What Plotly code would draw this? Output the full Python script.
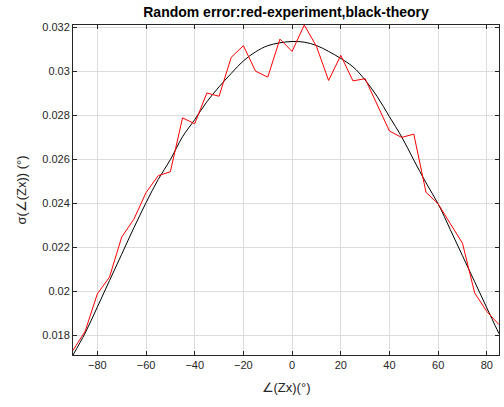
import plotly.graph_objects as go

# angles (deg) sampled every 5 degrees
angles = list(range(-90, 90, 5))

# experimental random error (red)
experiment = [0.01733, 0.01820, 0.01990, 0.02066, 0.02248, 0.02329, 0.02450, 0.02527,
              0.02545, 0.02790, 0.02763, 0.02903, 0.02888, 0.03065, 0.03118, 0.03002,
              0.02975, 0.03148, 0.03092, 0.03212, 0.03115, 0.02960, 0.03074, 0.02958,
              0.02968, 0.02848, 0.02730, 0.02701, 0.02716, 0.02452, 0.02399, 0.02309,
              0.02220, 0.01994, 0.01910, 0.01850]

# theoretical random error (black)
theory = [0.01712, 0.01812, 0.01930, 0.02050, 0.02170, 0.02290, 0.02404, 0.02510,
          0.02600, 0.02704, 0.02782, 0.02863, 0.02931, 0.02992, 0.03049, 0.03090,
          0.03118, 0.03131, 0.03137, 0.03134, 0.03119, 0.03092, 0.03060, 0.03022,
          0.02962, 0.02886, 0.02795, 0.02704, 0.02598, 0.02495, 0.02399, 0.02282,
          0.02163, 0.02045, 0.01926, 0.01809]

x_ticks = [-80, -60, -40, -20, 0, 20, 40, 60, 80]
y_ticks = [0.018, 0.020, 0.022, 0.024, 0.026, 0.028, 0.030, 0.032]
y_ticktext = ["0.018", "0.02", "0.022", "0.024", "0.026", "0.028", "0.03", "0.032"]

FONT = "Liberation Sans, Arial, sans-serif"

fig = go.Figure()
fig.add_trace(go.Scatter(x=angles, y=theory, mode="lines",
                         line=dict(color="black", width=1, shape="spline", smoothing=1.0),
                         showlegend=False))
fig.add_trace(go.Scatter(x=angles, y=experiment, mode="lines",
                         line=dict(color="#ff0000", width=1), showlegend=False))

axis_common = dict(
    showline=True, linecolor="#262626", linewidth=1, mirror="ticks",
    ticks="inside", ticklen=4, tickcolor="#262626",
    showgrid=True, gridcolor="#dcdcdc", gridwidth=1, zeroline=False,
    tickfont=dict(family=FONT, size=11, color="#262626"),
)

fig.update_layout(
    width=504, height=407,
    margin=dict(l=73, r=5, t=25, b=52),
    paper_bgcolor="white", plot_bgcolor="white",
    title=dict(text="<b>Random error:red-experiment,black-theory</b>",
               x=286 / 504, xanchor="center", y=1 - 12 / 407, yanchor="middle",
               font=dict(family=FONT, size=14, color="black")),
    xaxis=dict(range=[-90, 85], tickvals=x_ticks,
               title=dict(text="∠(Zx)(°)", standoff=12,
                          font=dict(family=FONT, size=13, color="#262626")),
               **axis_common),
    yaxis=dict(range=[0.01712, 0.03212], tickvals=y_ticks, ticktext=y_ticktext,
               title=dict(text="σ(∠(Zx)) (°)", standoff=12,
                          font=dict(family=FONT, size=13, color="#262626")),
               **axis_common),
)

fig.write_html("out.html")
